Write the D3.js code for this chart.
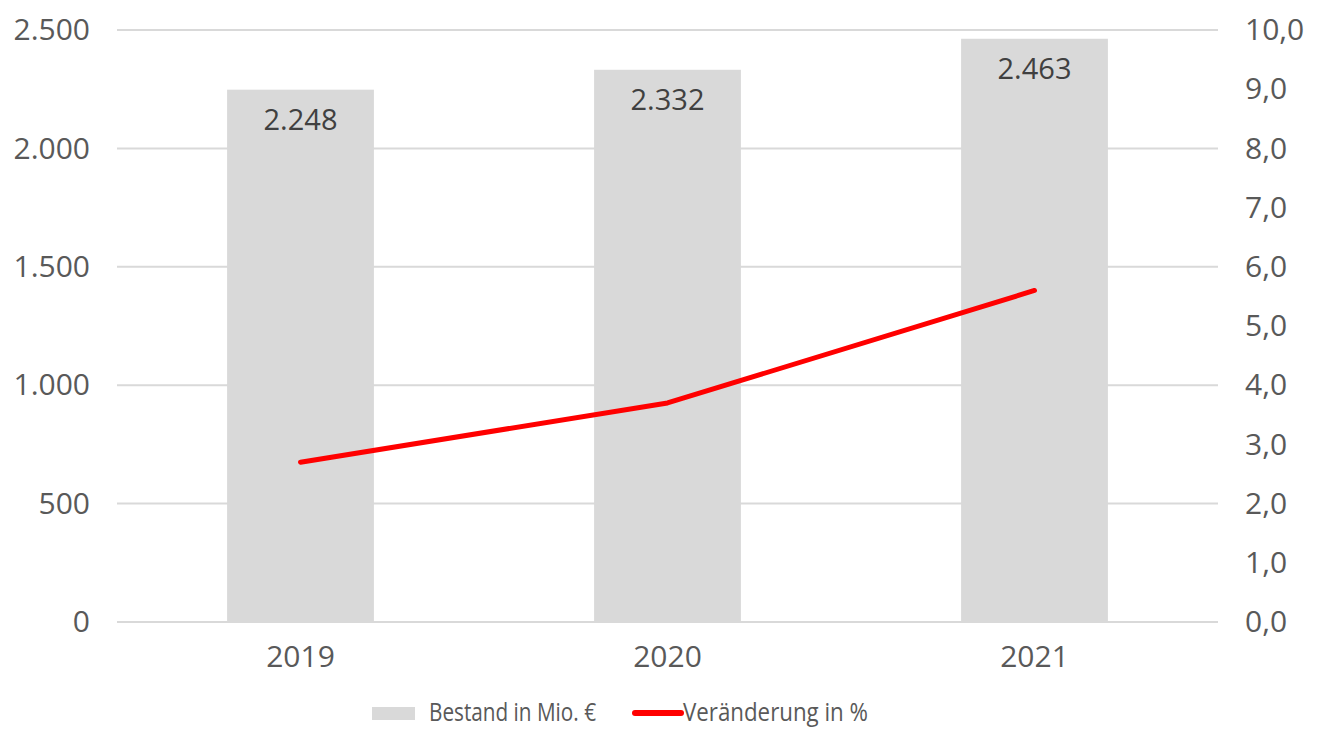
<!DOCTYPE html>
<html lang="de">
<head>
    <meta charset="UTF-8">
    <title>Bestand und Veränderung</title>
    <script src="https://d3js.org/d3.v7.min.js"></script>
    <style>
        body { margin: 0; background: #fff; }
        svg { display: block; font-family: "Open Sans", sans-serif; }
    </style>
</head>
<body>
<script>
    // Daten
    let years = ["2019", "2020", "2021"];
    let bestand = [2248, 2332, 2463];
    let veraenderung = [2.7, 3.7, 5.6];
    let leftTicks = [0, 500, 1000, 1500, 2000, 2500];
    let rightTicks = [0, 1, 2, 3, 4, 5, 6, 7, 8, 9, 10];

    let width = 1322, height = 729;
    let plot = { left: 117, right: 1218, top: 30, bottom: 622 };

    let svg = d3.select("body")
                .append("svg")
                .attr("width", width)
                .attr("height", height);

    let x = d3.scaleBand()
              .domain(years)
              .range([plot.left, plot.right])
              .paddingInner(0.6)
              .paddingOuter(0.3);

    let yLeft = d3.scaleLinear().domain([0, 2500]).range([plot.bottom, plot.top]);
    let yRight = d3.scaleLinear().domain([0, 10]).range([plot.bottom, plot.top]);

    let loc = d3.formatLocale({ decimal: ",", thousands: ".", grouping: [3], currency: ["", "€"] });
    let fLeft = loc.format(",d");
    let fRight = loc.format(".1f");

    // Gitternetz
    svg.append("g")
       .selectAll("line")
       .data(leftTicks)
       .enter()
       .append("line")
       .attr("x1", plot.left)
       .attr("x2", plot.right)
       .attr("y1", d => yLeft(d))
       .attr("y2", d => yLeft(d))
       .attr("stroke", "#d9d9d9")
       .attr("stroke-width", 2);

    // linke Achse
    let axL = svg.append("g")
                 .attr("transform", `translate(${plot.left - 27},0)`)
                 .call(d3.axisLeft(yLeft).tickValues(leftTicks).tickFormat(fLeft).tickSize(0).tickPadding(0));
    axL.select(".domain").remove();
    axL.selectAll("text")
       .attr("fill", "#595959")
       .attr("font-size", 30)
       .attr("font-family", "Open Sans, sans-serif");

    // rechte Achse
    let axR = svg.append("g")
                 .attr("transform", `translate(${plot.right + 27},0)`)
                 .call(d3.axisRight(yRight).tickValues(rightTicks).tickFormat(fRight).tickSize(0).tickPadding(0));
    axR.select(".domain").remove();
    axR.selectAll("text")
       .attr("fill", "#595959")
       .attr("font-size", 30)
       .attr("font-family", "Open Sans, sans-serif");

    // Balken
    svg.append("g")
       .selectAll("rect")
       .data(bestand)
       .enter()
       .append("rect")
       .attr("x", (d, i) => x(years[i]))
       .attr("y", d => yLeft(d))
       .attr("width", x.bandwidth())
       .attr("height", d => yLeft(0) - yLeft(d))
       .attr("fill", "#d9d9d9");

    // Achsenlinie unten
    svg.append("line")
       .attr("x1", plot.left)
       .attr("x2", plot.right)
       .attr("y1", yLeft(0))
       .attr("y2", yLeft(0))
       .attr("stroke", "#d9d9d9")
       .attr("stroke-width", 2);

    // Datenbeschriftung
    svg.append("g")
       .selectAll("text")
       .data(bestand)
       .enter()
       .append("text")
       .attr("x", (d, i) => x(years[i]) + x.bandwidth() / 2)
       .attr("y", d => yLeft(d) + 40)
       .attr("text-anchor", "middle")
       .attr("fill", "#404040")
       .attr("font-size", 29)
       .text(d => fLeft(d));

    // Kategorien
    let axB = svg.append("g")
                 .attr("transform", `translate(0,${plot.bottom})`)
                 .call(d3.axisBottom(x).tickSize(0).tickPadding(24));
    axB.select(".domain").remove();
    axB.selectAll("text")
       .attr("fill", "#595959")
       .attr("font-size", 30)
       .attr("font-family", "Open Sans, sans-serif");

    // Linie
    let line = d3.line()
                 .x((d, i) => x(years[i]) + x.bandwidth() / 2)
                 .y(d => yRight(d));
    svg.append("path")
       .datum(veraenderung)
       .attr("d", line)
       .attr("fill", "none")
       .attr("stroke", "#ff0000")
       .attr("stroke-width", 5)
       .attr("stroke-linecap", "round")
       .attr("stroke-linejoin", "round");

    // Legende
    let lg = svg.append("g").attr("transform", "translate(372,713)");
    lg.append("rect")
      .attr("x", 0).attr("y", -6).attr("width", 43).attr("height", 13)
      .attr("fill", "#d9d9d9");
    lg.append("text")
      .attr("x", 57).attr("y", 8)
      .attr("fill", "#595959").attr("font-size", 26)
      .attr("textLength", 167).attr("lengthAdjust", "spacingAndGlyphs")
      .text("Bestand in Mio. €");
    lg.append("line")
      .attr("x1", 263).attr("x2", 309).attr("y1", 0).attr("y2", 0)
      .attr("stroke", "#ff0000").attr("stroke-width", 6).attr("stroke-linecap", "round");
    lg.append("text")
      .attr("x", 311).attr("y", 8)
      .attr("fill", "#595959").attr("font-size", 26)
      .attr("textLength", 185).attr("lengthAdjust", "spacingAndGlyphs")
      .text("Veränderung in %");
</script>
</body>
</html>
